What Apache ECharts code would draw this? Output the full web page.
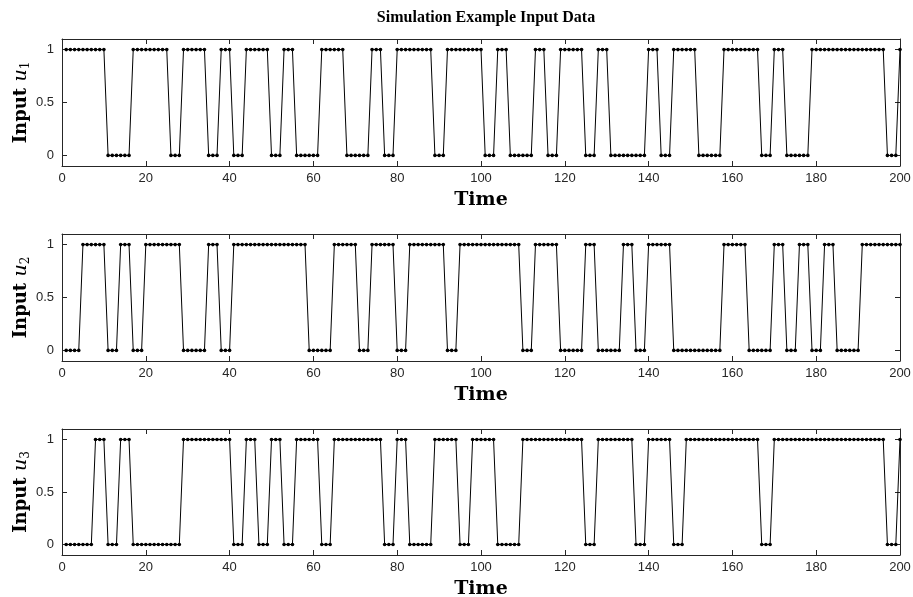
<!DOCTYPE html>
<html>
<head>
<meta charset="utf-8">
<script src="https://cdn.jsdelivr.net/npm/echarts@6/dist/echarts.min.js"></script>
<style>html,body{margin:0;padding:0;background:#fff}#c{width:913px;height:597px}</style>
</head>
<body>
<div id="c"></div>
<script>
// Input sequences, samples at t = 1..200 (10 per row)
const u1 = [
 1,1,1,1,1,1,1,1,1,1, 0,0,0,0,0,0,1,1,1,1, 1,1,1,1,1,0,0,0,1,1, 1,1,1,1,0,0,0,1,1,1,
 0,0,0,1,1,1,1,1,1,0, 0,0,1,1,1,0,0,0,0,0, 0,1,1,1,1,1,1,0,0,0, 0,0,0,1,1,1,0,0,0,1,
 1,1,1,1,1,1,1,1,0,0, 0,1,1,1,1,1,1,1,1,1, 0,0,0,1,1,1,0,0,0,0, 0,0,1,1,1,0,0,0,1,1,
 1,1,1,1,0,0,0,1,1,1, 0,0,0,0,0,0,0,0,0,1, 1,1,0,0,0,1,1,1,1,1, 1,0,0,0,0,0,0,1,1,1,
 1,1,1,1,1,1,0,0,0,1, 1,1,0,0,0,0,0,0,1,1, 1,1,1,1,1,1,1,1,1,1, 1,1,1,1,1,1,0,0,0,1
];
const u2 = [
 0,0,0,0,1,1,1,1,1,1, 0,0,0,1,1,1,0,0,0,1, 1,1,1,1,1,1,1,1,0,0, 0,0,0,0,1,1,1,0,0,0,
 1,1,1,1,1,1,1,1,1,1, 1,1,1,1,1,1,1,1,0,0, 0,0,0,0,1,1,1,1,1,1, 0,0,0,1,1,1,1,1,1,0,
 0,0,1,1,1,1,1,1,1,1, 1,0,0,0,1,1,1,1,1,1, 1,1,1,1,1,1,1,1,1,0, 0,0,1,1,1,1,1,1,0,0,
 0,0,0,0,1,1,1,0,0,0, 0,0,0,1,1,1,0,0,0,1, 1,1,1,1,1,0,0,0,0,0, 0,0,0,0,0,0,0,1,1,1,
 1,1,1,0,0,0,0,0,0,1, 1,1,0,0,0,1,1,1,0,0, 0,1,1,1,0,0,0,0,0,0, 1,1,1,1,1,1,1,1,1,1
];
const u3 = [
 0,0,0,0,0,0,0,1,1,1, 0,0,0,1,1,1,0,0,0,0, 0,0,0,0,0,0,0,0,1,1, 1,1,1,1,1,1,1,1,1,1,
 0,0,0,1,1,1,0,0,0,1, 1,1,0,0,0,1,1,1,1,1, 1,0,0,0,1,1,1,1,1,1, 1,1,1,1,1,1,0,0,0,1,
 1,1,0,0,0,0,0,0,1,1, 1,1,1,1,0,0,0,1,1,1, 1,1,1,0,0,0,0,0,0,1, 1,1,1,1,1,1,1,1,1,1,
 1,1,1,1,0,0,0,1,1,1, 1,1,1,1,1,1,0,0,0,1, 1,1,1,1,1,0,0,0,1,1, 1,1,1,1,1,1,1,1,1,1,
 1,1,1,1,1,1,0,0,0,1, 1,1,1,1,1,1,1,1,1,1, 1,1,1,1,1,1,1,1,1,1, 1,1,1,1,1,1,0,0,0,1
];
const seriesList = [u1, u2, u3];
const subscripts = ['1', '2', '3'];
const titleText = 'Simulation Example Input Data';
const xTicks = [0, 20, 40, 60, 80, 100, 120, 140, 160, 180, 200];
const yTicks = [0, 0.5, 1];

const time = u1.map((_, i) => i + 1);
const axisColor = '#262626';
const serif = '"DejaVu Serif", "Liberation Serif", serif';
const titleSerif = '"Liberation Serif", "DejaVu Serif", serif';
const sans = '"Liberation Sans", Arial, sans-serif';

const grids = [
  {left: 62, right: 13, top: 39, height: 127, outerBoundsMode: 'none', containLabel: false},
  {left: 62, right: 13, top: 234, height: 127, outerBoundsMode: 'none', containLabel: false},
  {left: 62, right: 13, top: 429, height: 126, outerBoundsMode: 'none', containLabel: false}
];

const xAxes = [], yAxes = [], series = [];
grids.forEach((g, k) => {
  xAxes.push({
    type: 'value', gridIndex: k, min: 0, max: 200, interval: 20,
    name: 'Time', nameLocation: 'middle', nameGap: 25, nameMoveOverlap: false,
    nameTextStyle: {fontFamily: serif, fontWeight: 'bold', fontSize: 19, color: '#000'},
    axisLine: {show: true, onZero: false, lineStyle: {color: axisColor, width: 1}},
    axisTick: {show: true, inside: true, length: 5, lineStyle: {color: axisColor}},
    axisLabel: {color: axisColor, fontFamily: sans, fontSize: 13, margin: 6},
    splitLine: {show: false}
  });
  xAxes.push({
    type: 'value', gridIndex: k, position: 'top', min: 0, max: 200, interval: 20,
    axisLine: {show: true, onZero: false, lineStyle: {color: axisColor, width: 1}},
    axisTick: {show: true, inside: true, length: 5, lineStyle: {color: axisColor}},
    axisLabel: {show: false}, splitLine: {show: false}
  });
  yAxes.push({
    type: 'value', gridIndex: k, min: -0.1, max: 1.1,
    name: '{b|Input }{i|u}{s|' + subscripts[k] + '}',
    nameLocation: 'middle', nameGap: 30, nameRotate: 90, nameMoveOverlap: false,
    nameTextStyle: {
      rich: {
        b: {fontFamily: serif, fontWeight: 'bold', fontSize: 18, color: '#000', lineHeight: 22},
        i: {fontFamily: serif, fontStyle: 'italic', fontSize: 19, color: '#000', lineHeight: 22},
        s: {fontFamily: serif, fontSize: 12, color: '#000', lineHeight: 11, verticalAlign: 'bottom'}
      }
    },
    axisLine: {show: true, onZero: false, lineStyle: {color: axisColor, width: 1}},
    axisTick: {show: true, inside: true, length: 5, lineStyle: {color: axisColor},
               customValues: yTicks},
    axisLabel: {color: axisColor, fontFamily: sans, fontSize: 13, margin: 8,
                customValues: yTicks,
                formatter: v => (Math.abs(v) < 1e-9 ? '0' : String(+v.toFixed(2)))},
    splitLine: {show: false}
  });
  yAxes.push({
    type: 'value', gridIndex: k, position: 'right', min: -0.1, max: 1.1,
    axisLine: {show: true, onZero: false, lineStyle: {color: axisColor, width: 1}},
    axisTick: {show: true, inside: true, length: 5, lineStyle: {color: axisColor},
               customValues: yTicks},
    axisLabel: {show: false}, splitLine: {show: false}
  });
  series.push({
    type: 'line', xAxisIndex: 2 * k, yAxisIndex: 2 * k,
    data: time.map((t, i) => [t, seriesList[k][i]]),
    symbol: 'circle', symbolSize: 3.6, showSymbol: true,
    lineStyle: {color: '#000', width: 1},
    itemStyle: {color: '#000'},
    animation: false, silent: true
  });
});

const chart = echarts.init(document.getElementById('c'), null, {renderer: 'canvas'});
chart.setOption({
  backgroundColor: '#fff',
  animation: false,
  title: {
    text: titleText, left: 481, top: 5, textAlign: 'center',
    textStyle: {fontFamily: titleSerif, fontWeight: 'bold', fontSize: 16, color: '#000'}
  },
  grid: grids,
  xAxis: xAxes,
  yAxis: yAxes,
  series: series
});
</script>
</body>
</html>
